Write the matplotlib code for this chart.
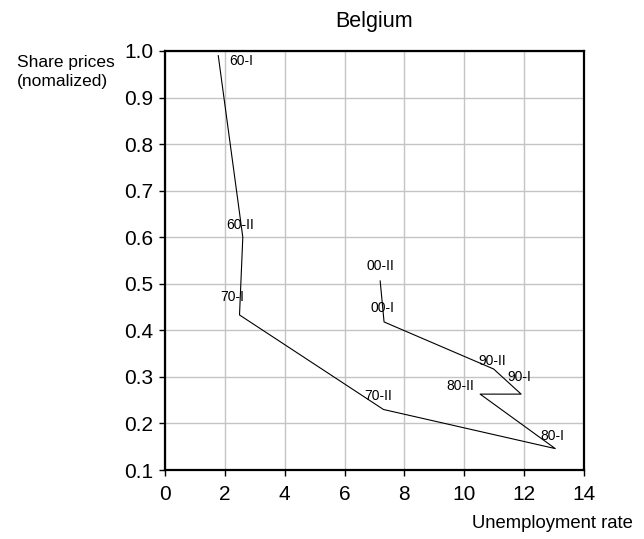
import numpy as np
import matplotlib
matplotlib.use("Agg")
import matplotlib.pyplot as plt

plt.rcParams['font.family'] = ['Liberation Sans', 'DejaVu Sans']

# Belgium: unemployment rate vs. normalized share prices, half-decades
periods = ["60-I", "60-II", "70-I", "70-II", "80-I", "80-II", "90-I", "90-II", "00-I", "00-II"]
unemployment = [1.78, 2.60, 2.49, 7.30, 13.04, 10.53, 11.90, 10.98, 7.32, 7.19]
share_prices = [0.99, 0.60, 0.433, 0.230, 0.146, 0.263, 0.263, 0.317, 0.418, 0.506]

# label offsets in points (dx, dy)
offsets = [(8, -4), (-2, 9), (-5, 13), (-4, 10), (-2, 9), (-14, 6), (-1, 12), (-1, 6), (-1, 10), (0, 11)]

fig = plt.figure(figsize=(6.44, 5.39), dpi=100)
ax = fig.add_axes([0.2562, 0.128, 0.6506, 0.7774])

ax.plot(unemployment, share_prices, color="black", lw=0.8)
for lab, x, y, (dx, dy) in zip(periods, unemployment, share_prices, offsets):
    ha = "left" if lab == "60-I" else "center"
    ax.annotate(lab, (x, y), textcoords="offset points", xytext=(dx, dy),
                ha=ha, va="center", fontsize=10)

ax.set_xlim(0, 14)
ax.set_ylim(0.1, 1.0)
ax.set_xticks(np.arange(0, 15, 2))
ax.set_yticks(np.arange(0.1, 1.01, 0.1))
ax.set_yticklabels([f"{v:.1f}" for v in np.arange(0.1, 1.01, 0.1)])
ax.grid(True, color="#c4c4c4", lw=1.0)
ax.set_axisbelow(True)
for s in ax.spines.values():
    s.set_linewidth(1.6)
    s.set_color("black")
ax.tick_params(direction="out", length=4.5, width=1.0, labelsize=15, colors="black")
ax.tick_params(axis="x", pad=6)
ax.tick_params(axis="y", pad=4)

ax.set_title("Belgium", fontsize=15.5, pad=17)
fig.text(17/644, 1 - 55/539, "Share prices\n(nomalized)", ha="left", va="top",
         fontsize=12.5, linespacing=1.35)
fig.text(633/644, 1 - 532/539, "Unemployment rate", ha="right", va="bottom", fontsize=13.3)

fig.savefig("out.png", dpi=100)
